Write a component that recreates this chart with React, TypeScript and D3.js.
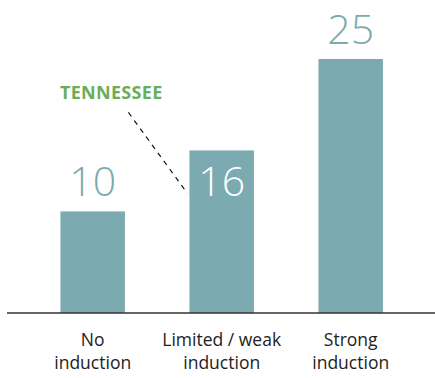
import React from "react";
import * as d3 from "d3";

const categories = ["No induction", "Limited / weak induction", "Strong induction"];
const categoryLines = [["No", "induction"], ["Limited / weak", "induction"], ["Strong", "induction"]];
const values = [10, 16, 25];
const annotationLabel = "TENNESSEE";

const W = 435;
const H = 378;
const BASE = 313;
const TEAL = "#7caab1";
const GREEN = "#6aae5a";
const FONT = "'Open Sans', 'Noto Sans', sans-serif";

export default function App() {
  const x = d3
    .scaleBand<string>()
    .domain(categories)
    .range([28.2, 415.2])
    .paddingInner(0.5)
    .paddingOuter(0.25);
  const y = d3.scaleLinear().domain([0, 25]).range([BASE, 59]);

  const ann = categories[1];
  const ax0 = (x(ann) as number) - 61;
  const ay0 = y(values[1]) - 38;
  const ax1 = (x(ann) as number) - 2;
  const ay1 = y(values[1]) + 43;

  return (
    <svg
      width={W}
      height={H}
      style={{ position: "absolute", left: 0, top: 0, fontFamily: FONT }}
    >
      {categories.map((c, i) => (
        <rect
          key={c}
          x={x(c)}
          y={y(values[i])}
          width={x.bandwidth()}
          height={BASE - y(values[i])}
          fill={TEAL}
        />
      ))}
      {categories.map((c, i) => {
        const inside = i === 1;
        return (
          <text
            key={"v" + c}
            x={(x(c) as number) + x.bandwidth() / 2}
            y={inside ? y(values[i]) + 46 : y(values[i]) - 15.5}
            textAnchor="middle"
            fontSize={41}
            fontWeight={300}
            fill={inside ? "#ffffff" : TEAL}
          >
            {values[i]}
          </text>
        );
      })}
      <line x1={7} x2={W} y1={BASE} y2={BASE} stroke="#333" strokeWidth={1.5} />
      {categories.map((c, i) => (
        <text
          key={"c" + c}
          x={(x(c) as number) + x.bandwidth() / 2}
          textAnchor="middle"
          fontSize={17.5}
          fill="#222"
        >
          {categoryLines[i].map((l, j) => (
            <tspan key={j} x={(x(c) as number) + x.bandwidth() / 2} y={346 + j * 22.5}>
              {l}
            </tspan>
          ))}
        </text>
      ))}
      <line
        x1={ax0}
        y1={ay0}
        x2={ax1}
        y2={ay1}
        stroke="#111"
        strokeWidth={1.2}
        strokeDasharray="5,5"
      />
      <text x={60} y={99} fontSize={18} fontWeight={700} letterSpacing={0.3} fill={GREEN}>
        {annotationLabel}
      </text>
    </svg>
  );
}
